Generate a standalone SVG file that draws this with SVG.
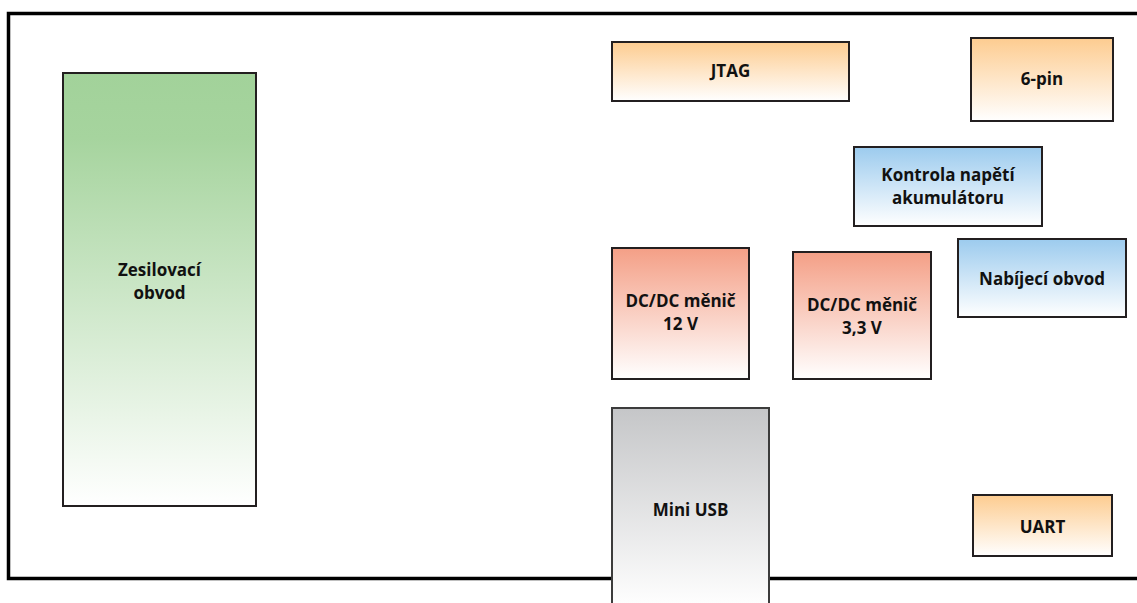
<svg xmlns="http://www.w3.org/2000/svg" width="1137" height="603" viewBox="0 0 1137 603">
<defs>
<linearGradient id="gOrange" x1="0" y1="0" x2="0" y2="1"><stop offset="0" stop-color="#fdcc90"/><stop offset="1" stop-color="#ffffff"/></linearGradient>
<linearGradient id="gBlue" x1="0" y1="0" x2="0" y2="1"><stop offset="0" stop-color="#9ccbee"/><stop offset="1" stop-color="#ffffff"/></linearGradient>
<linearGradient id="gRed" x1="0" y1="0" x2="0" y2="1"><stop offset="0" stop-color="#f49f86"/><stop offset="1" stop-color="#ffffff"/></linearGradient>
<linearGradient id="gGreen" x1="0" y1="0" x2="0" y2="1"><stop offset="0" stop-color="#a2d29a"/><stop offset="0.15" stop-color="#a6d49e"/><stop offset="1" stop-color="#ffffff"/></linearGradient>
<linearGradient id="gGray" x1="0" y1="0" x2="0" y2="1"><stop offset="0" stop-color="#c5c6c8"/><stop offset="1" stop-color="#ffffff"/></linearGradient>
</defs>
<style>
.box{stroke:#231f20;stroke-width:2}
.lbl{font-family:"Open Sans","Liberation Sans",sans-serif;font-weight:bold;font-size:17px;fill:#111;text-anchor:middle}
</style>
<rect width="1137" height="603" fill="#ffffff"/>
<path d="M1140 13.5 H8.5 V578.5 H1140" fill="none" stroke="#000" stroke-width="3.5"/>
<g id="zesilovaci"><rect class="box" x="63" y="73" width="193" height="433" fill="url(#gGreen)"/><text class="lbl" x="159.5" y="276">Zesilovací</text><text class="lbl" x="159.5" y="299">obvod</text></g>
<g id="jtag"><rect class="box" x="612" y="42" width="237" height="59" fill="url(#gOrange)"/><text class="lbl" x="730.5" y="77">JTAG</text></g>
<g id="pin6"><rect class="box" x="971" y="38" width="142" height="83" fill="url(#gOrange)"/><text class="lbl" x="1042" y="85">6-pin</text></g>
<g id="kontrola"><rect class="box" x="854" y="147" width="188" height="79" fill="url(#gBlue)"/><text class="lbl" x="948" y="181">Kontrola napětí</text><text class="lbl" x="948" y="204">akumulátoru</text></g>
<g id="nabijeci"><rect class="box" x="958" y="239" width="168" height="78" fill="url(#gBlue)"/><text class="lbl" x="1042" y="285">Nabíjecí obvod</text></g>
<g id="dc12"><rect class="box" x="612" y="248" width="137" height="131" fill="url(#gRed)"/><text class="lbl" x="680.5" y="307">DC/DC měnič</text><text class="lbl" x="680.5" y="330">12 V</text></g>
<g id="dc33"><rect class="box" x="793" y="252" width="138" height="127" fill="url(#gRed)"/><text class="lbl" x="862" y="311">DC/DC měnič</text><text class="lbl" x="862" y="334">3,3 V</text></g>
<g id="miniusb"><rect x="612" y="408" width="157" height="200" fill="url(#gGray)" stroke="#3c3c3c" stroke-width="2"/><text class="lbl" x="690.5" y="516">Mini USB</text></g>
<g id="uart"><rect class="box" x="973" y="495" width="139" height="61" fill="url(#gOrange)"/><text class="lbl" x="1042.5" y="533">UART</text></g>
<g id="connectors"></g>
</svg>
